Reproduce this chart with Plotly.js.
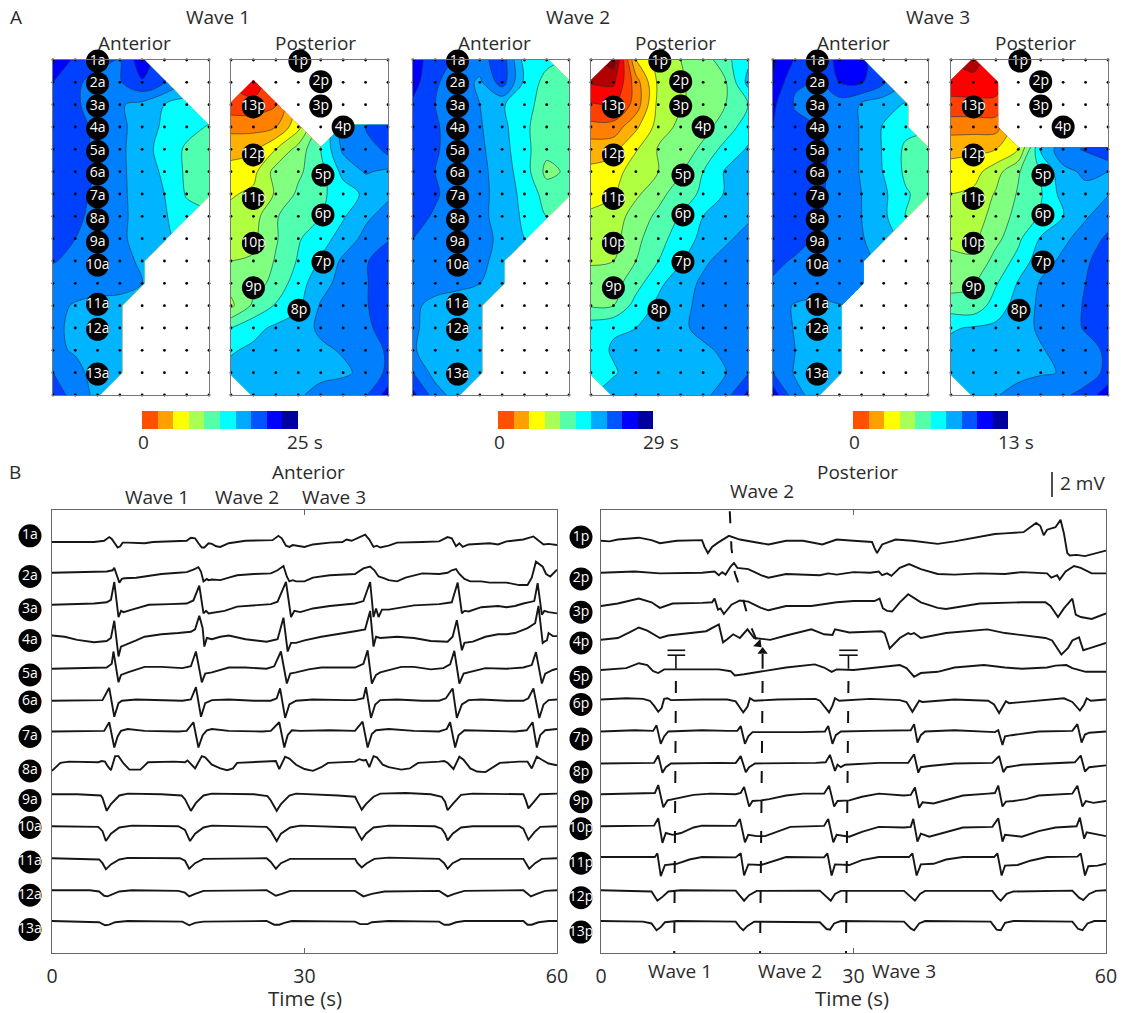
<!DOCTYPE html>
<html><head><meta charset="utf-8">
<script src="https://cdn.plot.ly/plotly-3.0.1.min.js"></script>
<style>html,body{margin:0;padding:0;background:#fff}#g{width:1127px;height:1013px}</style>
</head><body><div id="g"></div>
<script>
const N = null;
// Activation maps, rows top to bottom and columns left to right of the 16 x 8 electrode grid.
// Values are contour band numbers.
const wave1Anterior = [
[10.2,8.7,8.2,8.0,9.6,N,N,N],
[9.0,8.1,7.8,7.9,8.9,8.0,N,N],
[8.7,8.1,7.7,7.1,6.7,6.0,5.6,N],
[8.7,8.3,7.8,7.2,6.6,5.8,5.4,4.9],
[8.8,8.4,7.8,7.3,6.2,5.8,4.8,4.4],
[8.8,8.5,7.9,7.3,6.3,5.9,4.8,4.4],
[8.6,8.3,7.8,7.3,6.4,6.0,4.9,4.5],
[8.2,8.2,7.7,7.3,6.5,6.1,5.4,N],
[8.2,8.0,7.6,7.2,6.6,6.1,N,N],
[8.05,7.8,7.6,7.2,6.9,N,N,N],
[7.6,7.5,7.4,7.2,7.0,N,N,N],
[7.3,6.9,6.7,6.8,N,N,N,N],
[7.2,6.8,6.5,6.5,N,N,N,N],
[7.2,6.9,6.4,6.5,N,N,N,N],
[8.0,7.3,6.6,6.8,N,N,N,N],
[9.1,7.2,6.9,N,N,N,N,N]];
const wave1Posterior = [
[N,N,N,N,N,N,N,N],
[N,-2.8,N,N,N,N,N,N],
[-1.6,-1.6,-1.1,N,N,N,N,N],
[-0.3,-0.3,0.0,1.7,N,7.6,8.0,8.6],
[0.7,0.8,2.0,3.4,5.0,7.2,7.2,8.4],
[1.3,1.7,3.4,3.8,4.7,6.3,7.1,6.8],
[1.9,2.2,3.1,4.2,4.8,5.5,6.2,6.8],
[2.3,2.6,3.9,4.7,5.0,5.9,6.8,7.4],
[2.6,2.8,3.9,4.9,5.6,6.4,7.3,7.9],
[3.0,3.1,4.1,5.1,6.1,7.2,7.9,8.6],
[3.3,3.6,4.3,5.6,6.6,7.4,7.9,8.7],
[2.8,4.2,5.1,5.8,7.1,7.4,7.9,8.7],
[5.0,5.7,6.2,6.5,7.2,7.4,7.8,8.4],
[5.9,6.2,6.3,6.4,6.8,7.1,7.6,8.1],
[6.3,6.4,6.4,6.5,6.6,6.8,7.3,8.2],
[N,6.5,6.6,6.8,7.5,7.7,7.9,9.5]];
const wave2Anterior = [
[9.6,8.3,7.9,7.6,8.6,5.6,5.3,N],
[9.4,8.1,7.6,6.8,8.5,5.8,4.6,4.6],
[8.8,8.0,7.4,7.0,6.1,5.4,4.5,4.5],
[8.8,8.1,7.6,7.1,6.3,5.2,4.4,4.4],
[8.8,8.1,7.6,7.2,6.4,5.3,4.3,4.2],
[8.9,8.0,7.6,7.3,6.5,5.5,3.7,4.2],
[8.7,8.1,7.6,7.3,6.6,5.7,4.6,4.5],
[8.3,7.9,7.6,7.2,6.7,5.8,5.0,N],
[8.0,7.7,7.5,7.3,6.8,6.0,N,N],
[7.8,7.6,7.5,7.2,6.7,N,N,N],
[7.5,7.4,7.3,7.0,6.5,N,N,N],
[7.2,6.7,6.4,6.2,N,N,N,N],
[7.2,6.5,6.3,6.2,N,N,N,N],
[7.1,6.5,6.3,6.2,N,N,N,N],
[8.0,6.6,6.3,6.3,N,N,N,N],
[9.3,7.5,6.5,N,N,N,N,N]];
const wave2Posterior = [
[N,-4.5,1.0,2.4,3.0,3.4,4.7,5.8],
[-3.1,-3.2,-0.5,2.2,2.9,3.4,3.9,6.3],
[-1.9,-2.1,-0.6,2.3,2.9,3.4,4.0,5.0],
[-0.7,-0.6,0.8,2.4,3.3,3.7,4.4,5.6],
[0.6,0.7,1.9,3.1,3.5,4.2,5.4,6.1],
[1.2,1.5,2.6,3.0,3.9,5.0,6.1,6.4],
[1.6,1.9,2.8,3.7,4.5,5.2,6.1,6.5],
[2.2,2.4,3.5,4.2,5.1,6.0,6.6,6.8],
[2.3,2.7,3.7,4.7,5.4,6.3,6.8,7.4],
[2.9,3.0,4.0,5.0,5.9,6.8,7.4,7.8],
[3.4,3.6,4.6,5.8,6.5,7.2,7.6,7.9],
[3.9,4.0,5.4,6.2,6.7,7.3,7.6,7.9],
[5.6,5.9,6.0,6.4,6.8,7.3,7.7,7.8],
[5.6,6.1,6.4,6.5,6.6,6.8,7.2,7.7],
[5.5,5.9,6.4,6.5,6.6,6.7,6.95,7.9],
[N,6.4,6.5,6.5,6.6,6.7,7.6,9.3]];
const wave3Anterior = [
[10.2,8.9,8.5,9.2,9.3,N,N,N],
[9.9,8.1,8.0,9.0,9.1,8.1,N,N],
[9.2,7.9,7.8,7.5,6.9,6.4,5.9,N],
[9.0,8.3,8.0,7.7,6.9,5.9,5.3,N],
[8.9,8.5,8.2,7.7,6.9,5.9,4.8,4.4],
[8.8,8.6,8.2,7.7,6.9,5.95,4.8,4.4],
[8.9,8.7,8.2,7.6,7.0,6.2,5.1,4.6],
[8.9,8.7,8.1,7.6,7.0,6.2,5.0,N],
[8.6,8.3,7.9,7.6,7.1,6.3,N,N],
[8.2,7.9,7.8,7.6,7.3,N,N,N],
[7.9,7.7,7.6,7.6,7.4,N,N,N],
[7.5,6.9,6.7,6.95,N,N,N,N],
[7.4,6.95,6.6,6.7,N,N,N,N],
[7.3,7.0,6.6,6.7,N,N,N,N],
[8.0,6.9,6.7,6.8,N,N,N,N],
[9.6,7.3,6.6,N,N,N,N,N]];
const wave3Posterior = [
[N,-3.5,N,N,N,N,N,N],
[-2.5,-2.6,-2.5,N,N,N,N,N],
[-1.7,-1.7,-1.7,N,N,N,N,N],
[-0.4,-0.4,-0.4,N,N,N,N,N],
[0.7,0.8,1.0,2.0,6.0,7.7,8.1,9.0],
[1.4,1.6,2.6,3.9,5.1,6.7,7.2,7.0],
[2.0,2.2,3.1,4.1,4.9,6.4,6.7,6.95],
[2.3,2.6,3.3,4.4,5.1,5.95,6.9,7.5],
[2.8,2.8,3.7,4.8,6.1,6.8,7.4,8.2],
[3.2,3.1,4.4,5.3,6.6,7.2,7.8,8.7],
[3.6,3.9,4.9,6.1,7.1,7.4,8.0,8.8],
[4.5,4.3,5.5,6.4,7.2,7.5,8.1,8.8],
[5.9,6.1,6.2,6.5,7.2,7.5,8.1,8.8],
[6.3,6.4,6.4,6.5,6.9,7.4,7.6,8.2],
[6.4,6.4,6.5,6.6,6.9,7.05,7.4,8.3],
[N,6.5,6.9,7.5,7.7,7.8,8.4,9.6]];

const bandColors = ['#800000','#b00000','#ff0000','#ff4000','#ff8000','#ffb000','#ffff00','#b0ff40','#80ff80','#50ffb0','#00ffff','#00b4ff','#0080ff','#0040ff','#0000ff','#000090'];
const barColors = ['#ff5000','#ffa000','#ffff00','#aaff55','#55ffaa','#00ffff','#00aaff','#0055ff','#0000ff','#0000a0'];
const barEnds = ['25 s','29 s','13 s'];

const anteriorNames = ['1a','2a','3a','4a','5a','6a','7a','8a','9a','10a','11a','12a','13a'];
const anteriorCol = [2,2,2,2,2,2,2,2,2,2,2,2,2];
const anteriorRow = [0.05,1.05,2.06,3.07,4.1,5.1,6.13,7.15,8.16,9.18,10.94,12.06,14.06];
const posteriorNames = ['1p','2p','3p','4p','5p','6p','7p','8p','9p','10p','11p','12p','13p'];
const posteriorCol = [3.07,4,4,5,4.1,4.1,4.1,3.03,1,1,1,1,1];
const posteriorRow = [0.05,0.97,2.06,3,5.15,6.94,9.05,11.2,10.2,8.2,6.2,4.25,2.1];

// Recordings: time (s), value (mV from the channel's baseline) in alternating order.
const a1=[0,0,4.5,.05,5,0,6.2,.1,6.8,.4,7.1,.25,7.5,-.2,7.8,-.45,8.1,-.35,8.4,-.05,9,-.05,10,-.1,11,-.1,12,0,14,.05,16,.1,16.5,.35,17,.3,17.4,-.1,17.8,-.45,18.1,-.45,18.6,-.1,19,-.15,19.5,-.35,20,-.4,21,-.1,23,.1,25.5,.1,26.2,.15,26.9,.5,27.3,.3,27.8,-.3,28.2,-.4,28.6,-.25,29.2,-.3,30,-.4,31,-.2,33,-.05,34.5,0,35,.2,35.6,.1,36.5,.35,37.2,.6,37.7,.2,38.2,-.4,38.6,-.3,39,-.45,40,-.3,41,-.05,44,0,46,.05,47,.4,47.5,.3,48,-.35,48.4,-.1,48.8,-.4,49.5,-.2,52,-.1,53,-.2,54,.05,56,.2,57.2,.45,57.8,.1,58.4,-.2,59,-.15,60,-.25];
const a2=[0,0,5,.05,6.5,.1,7.2,.2,7.4,.4,7.7,-.2,8,-.8,8.3,-.5,8.6,-.45,10,-.4,11.5,-.25,13,-.1,15,0,16,.05,16.8,.25,17.4,.45,17.7,.1,18,-.7,18.4,-.5,18.6,-.6,19,-.55,20,-.6,21,-.4,22,-.2,24,-.1,26,-.05,26.8,.2,27.5,.55,27.9,-.3,28.2,-.7,28.6,-.6,29,-.7,30,-.7,31,-.4,33,-.2,35,-.1,36,-.1,37,.35,37.8,.5,38.3,.2,38.8,-.3,39.5,-.45,40,-.6,41,-.7,42,-.4,44,-.05,46,-.1,47,0,47.5,.2,48,.3,48.4,-.1,49,-.5,49.7,-.7,51,-.7,52,-.8,54,-.8,55.5,-1,56.5,-1,57,-.4,57.5,.9,58.3,.5,58.7,-.1,59.2,-.3,60,.25];
const a3=[0,0,5,.1,6.5,.2,7,.4,7.4,1.85,7.9,-1,8.2,-.5,8.5,-.6,9.5,-.4,10.5,-.2,11.5,0,14,.05,16,.1,16.8,.35,17.5,1.55,18,-.7,18.3,-.5,18.6,-.7,19.5,-.6,20.5,-.5,22,-.15,24,-.05,26,.05,26.8,.25,27.8,1.85,28.4,-1,28.8,-.5,29.5,-.6,31,-.3,33,-.1,36,.1,37,.3,37.8,1.85,38.2,-1,38.5,-.3,38.8,-1,39.2,-.4,40,-.4,41.5,-.2,43,-.05,46,.05,47.5,.2,48.2,1.8,48.7,-.7,49,-.5,49.5,-.55,51,-.2,53,-.1,54,-.2,55,-.1,56,.1,57.3,.3,57.7,1.75,58.2,-.8,58.5,-.5,59,-.6,60,-.7];
const a4=[0,0,1.5,-.1,3,-.35,5,-.55,6.5,-.45,7,-.2,7.4,1.2,7.9,-1.7,8.2,-.9,9,-.7,10,-.4,11,-.1,13,.1,15,.2,16.5,.3,17,.5,17.5,1.6,17.9,.6,18.1,-.9,18.4,-.2,19,-.3,20,-.1,21,0,23,-.3,25.5,-.5,26.8,-.3,27.5,1.45,28,-1.3,28.4,-.6,29,-.6,30,-.4,32,-.1,34,.1,36,.35,37.2,.5,37.8,2,38.2,-.9,38.5,-.1,39,-.2,41,-.1,43,-.2,45,-.45,47,-.5,47.6,-.1,48.1,1.25,48.7,-1.2,49,-.6,50,-.5,51.5,-.1,53,.1,54,.1,55,.2,56.5,.6,57.4,1,57.8,2.4,58.3,-.6,58.5,-.5,58.8,-.4,59,.2,59.5,-.05,60,-.05];
const a5=[0,0,5,.05,6.5,.1,7.1,.4,7.3,1.4,7.9,-1.1,8.2,-.5,9,-.3,10,-.05,11,.15,13,.15,15.5,.05,16.5,.2,17.1,1.4,17.8,-1.1,18.2,-.4,19,-.3,20,-.1,21,.1,23,.1,25.5,0,26.4,.2,27.2,1.4,27.9,-1.2,28.3,-.4,29,-.3,30.5,-.05,32,.1,35,.1,36,.1,37,.4,37.5,1.5,38,-1.2,38.5,-.5,39,-.3,40,-.1,41.5,.15,43,.15,45,-.05,46.5,.05,47.3,.35,47.8,1.45,48.4,-1.2,48.9,-.4,50,-.2,51.5,.05,54,0,56,.1,57,.3,57.5,1.35,58.2,-1.2,58.6,-.4,59.5,-.1,60,0];
const a6=[0,0,5,0,6,.05,6.8,1.05,7.4,-1.3,7.9,-.2,8.3,0,10,.1,14,.05,15.5,0,16.5,.1,17.1,1.1,17.7,-1.3,18.2,-.2,19,.05,21,.1,24,0,26,0,26.7,.2,27.1,1,27.7,-1.4,28.2,-.3,29,0,31,.1,35,.05,36,.05,37,.2,37.3,1.1,37.9,-1.4,38.4,-.3,39,.05,41,.1,44,0,46,0,46.8,.2,47.6,1,48.1,-1.4,48.7,-.3,49.5,.05,51,.1,54,0,56,0,56.6,.2,57.2,1,57.9,-1.4,58.4,-.3,59,.05,60,.1];
const a7=[0,0,5,0,6.2,.05,6.8,.75,7.4,-1.3,7.8,-.4,8.2,.05,9,.2,11,.05,15,0,16,.05,16.8,.75,17.4,-1.3,17.9,-.3,18.4,.1,19,.2,21,.05,25,0,26,.05,27,.75,27.6,-1.3,28,-.3,28.5,.1,29.5,.05,33,.1,36,.05,36.9,.8,37.5,-1.3,38,-.2,38.5,.1,40,.2,43,.05,46,0,46.9,.2,47.3,.75,47.9,-1.3,48.3,-.3,49,.1,51,.05,55,0,56.4,.1,57.1,.75,57.6,-1.3,58,-.3,58.6,.1,59.5,.2,60,.2];
const a8=[0,-.7,.5,-.35,1,-.05,2,.05,5.5,0,5.9,.1,6.3,.05,6.6,-.3,7,-.65,7.5,.5,7.9,.5,8.5,-.1,9.2,-.6,10.5,-.6,11.4,0,14.5,.05,15.8,0,16.1,.15,16.6,-.2,17,-.5,17.8,.5,18.2,.4,19,-.2,20,-.5,20.8,-.65,21.5,-.5,22,-.05,25,.05,26,.05,26.6,.1,27,-.55,27.7,.45,28.2,.3,29,-.2,30,-.55,31,-.7,32,-.4,32.8,-.05,36,.05,36.5,.25,37,.15,37.3,.2,37.7,-.4,38.2,.5,38.6,.4,39.3,-.2,40,-.4,41.5,-.6,42.5,-.5,43.5,-.05,46,.05,46.6,.1,47,-.05,47.7,-.55,48.4,.45,48.9,.2,49.7,-.5,50.5,-.75,51.5,-.8,52.5,-.4,53.2,-.05,55.5,.05,56.5,.05,57,-.5,57.6,.45,58.2,.2,59,-.1,60,-.25];
const a9=[0,0,3,0,5.8,-.1,6,-.3,6.5,-1.35,7,-.8,8,-.1,9,.05,13,0,15.4,-.1,15.8,-.4,16.5,-1.35,17.1,-.7,18,-.1,19,.05,24,0,25.6,-.15,26,-.5,26.7,-1.35,27.2,-.8,28.2,-.1,29,.05,34,-.1,36,-.2,36.3,-.6,36.8,-1.25,37.3,-.8,38.2,-.2,39,.05,42,.1,45,0,46.3,-.2,46.7,-.6,47,-1.3,47.6,-.8,48.6,-.05,50,.05,55,.05,56,0,56.3,-.5,56.6,-1.15,57.4,-.5,58,0,60,.05];
const a10=[0,0,5.5,-.05,6,-.4,6.4,-1.2,7,-.6,8,-.1,9.5,.05,15,0,15.8,-.3,16.4,-1.2,17,-.6,18,-.1,19,.05,25.5,-.05,26,-.4,26.7,-1.2,27.2,-.6,28.3,-.1,29.5,.05,36,-.1,36.3,-.5,36.8,-1.1,37.3,-.6,38.2,-.1,40,.05,45.5,0,46.3,-.2,46.7,-.6,47,-1.15,47.6,-.6,48.6,-.1,50,0,55.5,0,56,-.2,56.6,-1.1,57.3,-.5,58,-.05,60,0];
const a11=[0,0,5.6,-.1,6,-.4,6.4,-.9,7,-.5,8,-.1,9,.03,15.2,0,15.8,-.2,16.3,-.85,17,-.4,18,-.05,25.5,0,26,-.3,26.6,-.85,27.2,-.4,28.3,-.05,36,-.05,36.3,-.4,36.8,-.75,37.4,-.4,38.3,-.05,40,.05,46,-.05,46.6,-.4,47,-.85,47.6,-.4,48.6,-.05,56,-.05,56.3,-.4,56.7,-.85,57.4,-.4,58.2,-.05,60,0];
const a12=[0,0,4.5,0,5.6,-.1,6.2,-.45,6.6,-.5,7.2,-.3,8,-.1,9.5,0,15,-.05,15.8,-.2,16.3,-.5,17,-.3,18,-.05,25.5,0,26.2,-.3,26.6,-.45,27.3,-.3,28.3,-.05,36,-.05,36.6,-.3,37,-.5,38,-.3,39.5,-.1,46,-.05,46.6,-.3,47,-.5,47.8,-.3,49,-.05,56,0,56.5,-.3,56.9,-.5,57.6,-.3,58.6,-.05,60,0];
const a13=[0,0,4.8,-.05,5.6,-.1,6.3,-.35,6.8,-.3,7.5,-.1,9,0,15.5,-.05,16.3,-.35,17,-.15,18,-.05,25.5,0,26.4,-.3,27,-.3,27.6,-.15,28.5,0,36,-.05,36.6,-.25,37.5,-.25,38,-.1,40,0,46,-.05,46.6,-.3,47.2,-.3,48,-.1,49,0,56,0,56.5,-.3,57,-.3,57.8,-.1,59,0,60,0];
const p1=[0,0,1,-.05,2,.1,4.5,.25,6,.05,7,-.2,9,0,12,.05,12.3,-.5,12.7,-1,13.2,-.5,13.9,-.15,15.2,.4,16.5,.1,19,-.2,19.9,-.3,22,0,24,0,26.3,-.3,28,.1,30,0,32.2,-.1,32.5,-.6,32.8,-1,33.4,-.3,35,.1,37,0,40,-.25,42,-.05,44,.2,46.8,.55,48,.6,50.2,.7,51.7,1.45,52.2,1.2,52.6,.45,53,.9,54,1.1,54.6,1.7,55,.6,55.4,-1,55.7,-1.2,56.5,-1.15,57.5,-1.25,59,-1,60,-.8];
const p2=[0,0,4,.1,7,-.05,12,0,13.5,.1,14,-.2,14.4,.05,14.8,-.15,15.4,.5,15.8,.8,16.2,.4,17.5,.3,19,-.2,19.9,-.4,22,-.1,26,-.2,27,-.05,28,-.15,30,.05,32,0,33,.1,33.4,-.2,34,-.05,34.5,-.25,35.5,.4,36.6,.7,38,.3,40,-.1,42,-.15,45,-.05,48,-.1,50,.05,53,-.05,53.5,-.4,54.2,-.2,54.5,-.55,55.2,.1,56.2,.55,57,.4,58.3,-.05,60,-.05];
const p3=[0,-.1,2,.1,4.5,.5,6,.2,7,-.25,8.5,.1,12,.15,13.2,.2,13.5,.5,13.9,-.4,14.2,-.3,14.6,-.75,15.5,0,16.5,.35,17.5,.25,19,-.25,19.9,-.45,22,-.1,25,-.1,27,.1,28,.2,30,.3,32.5,.3,33.1,.5,33.5,-.3,34,-.5,34.6,-.55,35.5,.2,36.5,.85,38,.2,40,-.25,41,-.35,45,.1,50,.2,52.8,.2,53.4,-.1,54.3,-1,55,-.3,56,.5,56.4,-.8,57,-1,58.3,-1.15,60,-.7];
const p4=[0,-.15,2,0,3.5,.5,4.5,.85,5.5,.6,7,0,8,.2,10,.35,12.5,.55,14,1.1,14.5,-.35,15,-.1,15.7,.3,16.5,0,17.4,.7,18.2,0,20.1,-.15,22,.2,25,.7,26.5,.3,27.5,.25,27.8,.7,29.5,.45,33.3,.55,33.7,.4,34.3,-.85,35.5,0,36.5,.4,36.8,.3,37.2,.4,38,0,41,.4,45.9,.7,48,.4,52.8,0,53.6,-.2,54.7,-1.35,55.5,-.8,56,-.2,56.8,.05,57.3,-1,58,-.85,60,-.4];
const p5=[0,0,3,.15,4.5,.55,5.5,.4,6.2,-.1,6.8,-.25,7.5,.05,13,.1,14,.05,15.4,-.1,15.9,-.45,17,-.35,19,-.15,22,.2,25.4,.45,26.5,.2,27.4,-.15,28,.05,30,0,33,.2,35.5,.4,36.3,.15,36.8,-.2,37.2,-.55,38,-.25,40,-.15,42,.2,45.5,.4,48,.2,50,.1,53,.2,54,.35,55.3,.4,56,.15,57.6,-.15,60,-.15];
const p6=[0,0,3,.1,5,.05,5.8,-.1,6.3,-.5,6.8,-1,7.2,-.7,7.5,.05,7.9,.1,8.3,-.05,12,0,15,0,16,-.15,16.6,-.7,16.9,-1.05,17.4,-.6,17.7,.1,18.2,-.1,21,0,25.5,.05,26,-.1,26.7,-.7,27.1,-1.05,27.5,-.5,27.8,.1,28.3,-.1,32,.05,35.5,-.05,36.3,-.2,37,-1,37.5,-.5,37.8,-.1,38.2,-.2,42,0,46,-.1,46.7,-.4,47.3,-1.1,47.8,-.5,48.1,-.15,48.5,-.3,52,-.1,55,.1,56,-.2,56.9,-.9,57.4,-.4,57.7,.1,58.2,-.1,60,0];
const p7=[0,0,4,.1,6.2,.05,6.6,.5,7.1,-1,7.5,-.4,8,0,12,.1,15,.05,16.2,.05,16.6,.45,17.1,-1,17.5,-.4,18,-.05,24,-.05,26.6,0,27,.45,27.5,-1,27.9,-.3,28.5,0,32,.05,36.8,.1,37.2,.6,37.6,-.9,38,-.3,38.5,0,42,.1,46.8,-.05,47.2,.1,47.7,-1.1,48,-.4,48.8,-.3,52,0,56,.05,56.6,.6,57.1,-.9,57.5,-.25,58,-.1,60,0];
const p8=[0,0,5,.03,6.3,.05,6.8,.65,7.3,-.75,7.7,-.3,8.3,0,14,.05,16,.03,16.6,.6,17.2,-.7,17.6,-.3,18.3,0,25.5,.05,26.7,.1,27.2,.7,27.8,-.6,28.1,-.1,28.5,-.3,29,-.1,33,.05,36.5,.05,37.2,.75,37.7,-.75,38,-.3,39,-.2,42,0,46.5,.05,47.3,.6,47.8,-.7,48.2,-.3,50,-.1,55,.05,56.3,.1,57,.65,57.5,-.65,58,-.3,60,-.15];
const p9=[0,0,5.5,.05,6.4,.1,6.8,.75,7.4,-1.05,7.9,-.5,9,-.35,11,-.05,13,.05,16,0,16.6,.1,17,.6,17.6,-1,18,-.55,19,-.5,20,-.4,22,-.1,24,.05,26.5,.05,27.1,.7,27.7,-1,28.1,-.55,29.5,-.5,31,-.2,33,.05,36,-.1,36.8,-.05,37.3,.55,37.8,-1.1,38.2,-.65,39.5,-.75,41,-.45,43,-.1,46,.05,46.8,.1,47.2,.7,47.7,-1,48.1,-.6,49,-.55,50.5,-.4,52,-.1,56,.05,56.6,.7,57.2,-1,57.6,-.55,58.5,-.7,60,-.55];
const p10=[0,0,5,.03,6.3,.05,6.8,.65,7.3,-1.35,7.7,-.55,8.5,-.7,9.5,-.55,11,-.1,12,.05,16,.03,16.5,.6,17.1,-1.3,17.5,-.7,18.5,-.8,19.5,-.8,21,-.4,22.5,-.05,26.5,.03,27,.6,27.6,-1.3,28,-.7,29.5,-.85,31,-.45,33,-.05,36,-.1,36.8,-.05,37.1,.6,37.6,-1.25,38,-.6,39,-.85,41,-.45,43,-.1,46.5,-.05,47.2,.65,47.7,-1.25,48,-.7,50,-.85,52,-.4,54,-.1,56.5,0,56.9,.7,57.4,-1,57.7,-.5,58.5,-.6,60,-.8];
const p11=[0,0,5.5,-.03,6.4,0,6.7,.3,7.1,-1.55,7.6,-.65,9,-.55,10.5,-.2,12,0,16,-.03,16.6,.3,17,-1.5,17.5,-.6,19,-.65,20.5,-.3,22,0,26.5,-.03,26.9,.3,27.4,-1.5,27.8,-.6,29.5,-.65,31,-.25,33,0,36.6,0,37,.3,37.5,-1.5,38,-.6,39.5,-.55,41,-.2,43,0,46.7,0,47.1,.3,47.6,-1.5,48,-.7,49.5,-.65,51,-.3,53,0,56.6,.03,57,.3,57.5,-1.5,57.9,-.75,59,-.7,60,-.55];
const p12=[0,0,5,-.05,6,-.1,6.7,-.85,7.2,-.6,8,-.1,9.5,0,16,-.03,16.6,-.5,17,-.85,17.6,-.4,18.5,-.05,26,-.03,26.9,-.6,27.3,-.85,27.8,-.3,28.5,-.05,36,-.05,36.8,-.5,37.3,-.85,37.9,-.3,38.5,-.05,46.5,-.05,47.1,-.6,47.5,-.85,48.2,-.3,49,-.1,56,-.03,56.8,-.6,57.3,-.8,58,-.3,58.8,-.05,60,0];
const p13=[0,0,5,-.05,6,-.2,6.6,-.75,7.1,-.5,7.6,-.1,9,0,16,-.05,16.5,-.5,16.9,-.75,17.4,-.4,18.2,-.05,26,-.1,26.8,-.65,27.2,-.7,27.7,-.2,28.5,0,36,-.05,36.8,-.6,37.2,-.75,37.8,-.2,38.5,0,46.3,-.05,47,-.7,47.5,-.75,48,-.15,49,0,56,-.05,56.7,-.65,57.2,-.75,57.8,-.2,58.6,0,60,0];
const anteriorTraces=[a1,a2,a3,a4,a5,a6,a7,a8,a9,a10,a11,a12,a13];
const posteriorTraces=[p1,p2,p3,p4,p5,p6,p7,p8,p9,p10,p11,p12,p13];
const anteriorBase=[33.4,30.9,28.3,25.8,23.1,20.5,18.0,15.5,12.9,10.3,7.7,5.1,2.6];
const posteriorBase=[33.5,30.9,28.3,25.6,23.0,20.6,18.0,15.4,12.9,10.3,7.8,5.1,2.6];
const anteriorBadgeY=[33.9,30.6,27.9,25.4,22.6,20.4,17.6,14.8,12.4,10.2,7.4,4.7,1.9];
const posteriorBadgeY=[33.8,30.4,27.7,25.2,22.4,20.2,17.4,14.7,12.3,10.1,7.3,4.5,1.7];

// Annotation marks on the posterior recordings.
const wave1Line={x:[8.9,8.7],y:[22.1,0]};
const wave2Line={x:[19.2,18.9],y:[22.1,0]};
const wave3Line={x:[29.4,29.1],y:[22.1,0]};
const propagation={x:[15.3,15.5,15.9,16.5,17.7,18.5],y:[35.9,32.9,30.9,29.7,26.7,25.4]};

const W=1127,H=1013;
const fx=p=>p/W, fy=p=>1-p/H;
const FONT='"Open Sans", "Noto Sans", sans-serif';
const TXT='#2b2b2b';
const data=[], layout={width:W,height:H,margin:{l:0,r:0,t:0,b:0},paper_bgcolor:'#fff',plot_bgcolor:'#fff',showlegend:false,font:{family:FONT,color:TXT},annotations:[],shapes:[]};
let axN=0;
function addAxes(x0,x1,y0,y1,xo,yo){axN++;const k=axN===1?'':axN;
  layout['xaxis'+k]=Object.assign({domain:[fx(x0),fx(x1)],anchor:'y'+k,showgrid:false,zeroline:false,fixedrange:true},xo);
  layout['yaxis'+k]=Object.assign({domain:[fy(y1),fy(y0)],anchor:'x'+k,showgrid:false,zeroline:false,fixedrange:true},yo);
  return {xaxis:'x'+k,yaxis:'y'+k};}
function note(px,py,text,size,extra){layout.annotations.push(Object.assign({xref:'paper',yref:'paper',x:fx(px),y:fy(py),text:text,showarrow:false,xanchor:'center',yanchor:'middle',font:{size:size,family:FONT,color:TXT}},extra||{}));}

const gridX=[0,1,2,3,4,5,6,7], gridY=[0,1,2,3,4,5,6,7,8,9,10,11,12,13,14,15];
const dotX=[],dotY=[];gridY.forEach(r=>gridX.forEach(c=>{dotX.push(c);dotY.push(r);}));
const colorscale=bandColors.map((c,i)=>[i/(bandColors.length-1),c]);

function mapPanel(x0,x1,z,names,cols,rows){
  const a=addAxes(x0,x1,60,395,{range:[0,7],showline:true,mirror:true,linecolor:'#777',linewidth:1,ticks:'',showticklabels:false},{range:[15,0],showline:true,mirror:true,linecolor:'#777',linewidth:1,ticks:'',showticklabels:false});
  data.push(Object.assign({type:'contour',x:gridX,y:gridY,z:z,autocontour:false,connectgaps:false,contours:{start:-4,end:10,size:1,coloring:'fill',showlines:true},line:{color:'#1c3040',width:0.6,smoothing:1},colorscale:colorscale,showscale:false,hoverinfo:'skip'},a));
  data.push(Object.assign({type:'scatter',mode:'markers',x:dotX,y:dotY,marker:{size:2.8,color:'#000'},cliponaxis:false,hoverinfo:'skip'},a));
  data.push(Object.assign({type:'scatter',mode:'markers+text',x:cols,y:rows,text:names,textposition:'middle center',textfont:{color:'#fff',size:14,family:FONT},marker:{size:23,color:'#000'},cliponaxis:false,hoverinfo:'skip'},a));
}
const panels=[
 [53,209,wave1Anterior,0],[231,388,wave1Posterior,1],
 [413,569,wave2Anterior,0],[591,748,wave2Posterior,1],
 [773,928,wave3Anterior,0],[951,1108,wave3Posterior,1]];
panels.forEach(p=>{ if(p[3]===0) mapPanel(p[0],p[1],p[2],anteriorNames,anteriorCol,anteriorRow); else mapPanel(p[0],p[1],p[2],posteriorNames,posteriorCol,posteriorRow);
  note((p[0]+p[1])/2+(p[3]?6:3),43,p[3]?'Posterior':'Anterior',19);});
[[218,'Wave 1'],[578,'Wave 2'],[938,'Wave 3']].forEach(w=>note(w[0],17,w[1],19));
note(16,17,'A',19);note(15,472,'B',19);

// Colour bars
const barCols=barColors.map((c,i)=>i+0.5);
[[142,298,143,305],[498,653,499,661],[853,1008,854,1016]].forEach((b,i)=>{
  const a=addAxes(b[0],b[1],411,429,{range:[0,10],visible:false},{range:[0,1],visible:false});
  data.push(Object.assign({type:'heatmap',x:barCols,y:[0.5],z:[barCols],zmin:0,zmax:10,showscale:false,hoverinfo:'skip',
    colorscale:barColors.flatMap((c,j)=>[[j/10,c],[(j+1)/10,c]])},a));
  note(b[2],442,'0',19);note(b[3],442,barEnds[i],19);
});

// Recordings
function recPanel(x0,x1,traces,base,names,badgeLeft,badgeY){
  const common={showline:true,mirror:'ticks',linecolor:'#666',linewidth:1.2};
  const a=addAxes(x0,x1,510,953,Object.assign({},common,{range:[0,60],tickvals:[0,30,60],ticktext:['0','30','60'],ticks:'inside',ticklen:5,tickcolor:'#666',tickfont:{size:19.5,family:FONT,color:TXT},tickangle:0,ticklabelstandoff:5}),Object.assign({},common,{range:[0,36],ticks:'',showticklabels:false}));
  traces.forEach((t,i)=>{const xs=[],ys=[];for(let j=0;j<t.length;j+=2){xs.push(t[j]);ys.push(base[i]+t[j+1]);}
    data.push(Object.assign({type:'scatter',mode:'lines',x:xs,y:ys,line:{color:'#161616',width:1.9},hoverinfo:'skip'},a));});
  const b=addAxes(badgeLeft,badgeLeft+30,510,953,{range:[0,1],visible:false},{range:[0,36],visible:false});
  data.push(Object.assign({type:'scatter',mode:'markers+text',x:names.map(()=>0.5),y:badgeY,text:names,textposition:'middle center',textfont:{color:'#fff',size:14,family:FONT},marker:{size:23,color:'#000'},cliponaxis:false,hoverinfo:'skip'},b));
  return a;
}
recPanel(52,557,anteriorTraces,anteriorBase,anteriorNames,15,anteriorBadgeY);
const r=recPanel(601,1106,posteriorTraces,posteriorBase,posteriorNames,566,posteriorBadgeY);
const dashLine={color:'#111',width:2,dash:'12px,18px'};
[wave1Line,wave2Line,wave3Line,propagation].forEach(l=>data.push(Object.assign({type:'scatter',mode:'lines',x:l.x,y:l.y,line:dashLine,hoverinfo:'skip'},r)));
const solid={color:'#111',width:1.6};
[[8.9,7.9,10],[29.4,28.3,30.5]].forEach(t=>{
  data.push(Object.assign({type:'scatter',mode:'lines',x:[t[0],t[0]],y:[23.1,24.2],line:solid,hoverinfo:'skip'},r));
  data.push(Object.assign({type:'scatter',mode:'lines',x:[t[1],t[2]],y:[24.2,24.2],line:solid,hoverinfo:'skip'},r));
  data.push(Object.assign({type:'scatter',mode:'lines',x:[t[1],t[2]],y:[24.6,24.6],line:solid,hoverinfo:'skip'},r));
});
data.push(Object.assign({type:'scatter',mode:'lines',x:[19.2,19.2],y:[23.1,24.3],line:{color:'#111',width:2},hoverinfo:'skip'},r));
data.push(Object.assign({type:'scatter',mode:'markers',x:[19.2],y:[24.5],marker:{symbol:'triangle-up',size:9,color:'#111'},hoverinfo:'skip'},r));
data.push(Object.assign({type:'scatter',mode:'markers',x:[18.7],y:[25.1],marker:{symbol:'triangle-up',size:9,color:'#111',angle:135},hoverinfo:'skip'},r));

note(308,472,'Anterior',19);note(857,472,'Posterior',19);
note(157,497,'Wave 1',19);note(247,497,'Wave 2',19);note(334,497,'Wave 3',19);
note(762,491,'Wave 2',19);
note(680,971,'Wave 1',19);note(790,971,'Wave 2',19);note(904,971,'Wave 3',19);
note(1082,483,'2 mV',19);
note(305,998,'Time (s)',20.5);note(852,998,'Time (s)',20.5);
layout.shapes.push({type:'line',xref:'paper',yref:'paper',x0:fx(1052),x1:fx(1052),y0:fy(472),y1:fy(497),line:{color:'#222',width:1.6}});

Plotly.newPlot('g',data,layout,{staticPlot:true,displayModeBar:false});
</script></body></html>
